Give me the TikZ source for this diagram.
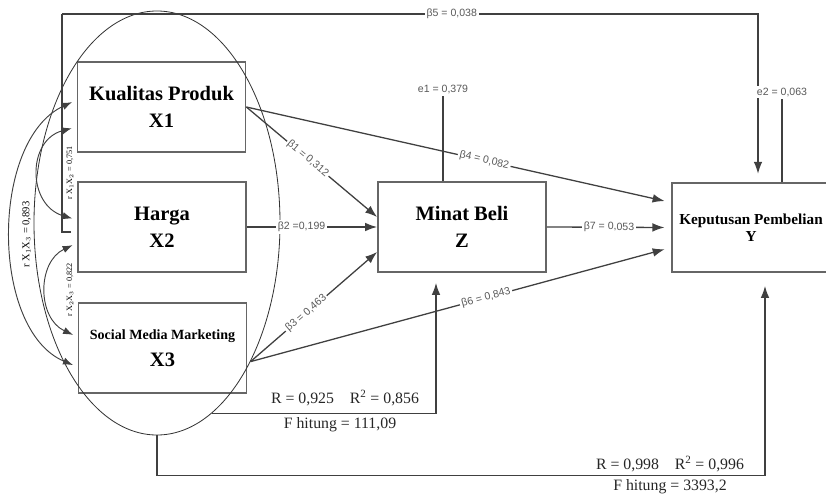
\documentclass[tikz,border=0pt]{standalone}
\usepackage{fontspec}
\setmainfont{Liberation Serif}
\newfontfamily\coeffont{Liberation Sans}
\usetikzlibrary{arrows.meta,shapes.geometric}

\begin{document}
\begin{tikzpicture}[x=0.03cm, y=-0.03cm,
  varbox/.style={draw=black!60, line width=1.5pt, minimum width=5.04cm, minimum height=2.7cm, inner sep=0pt, align=center, font=\fontsize{17.5}{23}\selectfont\bfseries},
  link/.style={draw=black!75, line width=1.1pt, -{Latex[length=0.36cm, width=0.26cm]}},
  corr/.style={draw=black!75, line width=0.8pt, {Latex[length=0.3cm, width=0.22cm]}-{Latex[length=0.3cm, width=0.22cm]}, shorten <=0.15cm, shorten >=0.15cm},
  coef/.style={font=\coeffont\fontsize{9}{10}\selectfont, text=black!65, fill=white, inner sep=1.5pt, sloped},
  stat/.style={font=\fontsize{13.5}{15}\selectfont, text=black!85},
  err/.style={draw=black!75, line width=1.1pt}]
\useasboundingbox (0,0) rectangle (826,499);

% variables
\node[varbox] (kp) at (161.5,107) {Kualitas Produk\\X1};
\node[varbox] (hg) at (162,227) {Harga\\X2};
\node[varbox] (smm) at (162.5,348) {\fontsize{12}{23}\selectfont Social Media Marketing\\\fontsize{17.5}{23}\selectfont X3};
\node[varbox] (mb) at (462,227) {Minat Beli\\Z};
\node[varbox, minimum width=4.74cm, minimum height=2.67cm, font=\fontsize{13}{15}\selectfont\bfseries] (kpb) at (751,227.5) {Keputusan Pembelian\\Y};
\node[draw=black!80, line width=0.7pt, ellipse, minimum width=7.38cm, minimum height=12.72cm, inner sep=0pt] (grp) at (157,223) {};

% correlations
\draw[corr] ([yshift=0.21cm]kp.west) .. controls (-10,140) and (-10,330) .. ([yshift=-0.57cm]smm.west)
  node[pos=0.5, rotate=90, font=\fontsize{9}{10}\selectfont, yshift=-0.45cm] {r X$_1$X$_3$ = 0,893};
\draw[corr] ([yshift=-0.6cm]kp.west) .. controls (27,140) and (27,205) .. ([yshift=0.21cm]hg.west);
\draw[corr] ([yshift=-0.48cm]hg.west) .. controls (37,262) and (37,318) .. ([yshift=0.33cm]smm.west);
\node[rotate=90, font=\fontsize{7}{8}\selectfont, inner sep=0pt] (r12) at (70,173) {r X$_1$X$_2$ = 0,751};
\node[rotate=90, font=\fontsize{7}{8}\selectfont, inner sep=0pt] (r23) at (70,290) {r X$_2$X$_3$ = 0,822};

% direct paths
\coordinate (tl) at (62,14);
\draw[err] ([xshift=-0.18cm, yshift=-0.15cm]hg.west) -| (tl);
\draw[link, shorten >=0.25cm] (tl) -| node[coef, pos=0.28] {β5 = 0,038} ([xshift=0.21cm]kpb.north);
\draw[link] (kp.east) -- node[coef, pos=0.47] {β1 = 0,312} ([yshift=0.3cm]mb.west);
\draw[link, shorten >=0.2cm] (kp.east) -- node[coef, pos=0.56] {β4 = 0,082} ([yshift=0.75cm]kpb.west);
\draw[link] (hg.east) -- node[coef, pos=0.42] {β2 =0,199} (mb.west);
\draw[link] (grp.-56) -- node[coef, pos=0.44] {β3 = 0,463} ([yshift=-0.75cm]mb.west);
\draw[link, shorten >=0.2cm] (grp.-56) -- node[coef, pos=0.56] {β6 = 0,843} ([yshift=-0.6cm]kpb.west);
\draw[link, shorten >=0.2cm] (mb.east) -- node[coef] {β7 = 0,053} (kpb.west);

% errors
\draw[err] ([xshift=-0.57cm]mb.north) -- ++(0,-85) node[above, coef] {e1 = 0,379};
\draw[err] ([xshift=0.93cm]kpb.north) -- ++(0,-83) node[above, coef] {e2 = 0,063};

% simultaneous
\draw[link] (grp.-74) -| ([xshift=-0.78cm, yshift=-0.3cm]mb.south);
\node[stat] (rz) at (345,398) {R = 0,925\quad R\textsuperscript{2} = 0,856};
\node[stat] (fz) at (340,425) {F hitung = 111,09};
\draw[link] (grp.south) -- ++(0,40) -| ([xshift=0.42cm, yshift=-0.39cm]kpb.south);
\node[stat] (ry) at (670,464) {R = 0,998\quad R\textsuperscript{2} = 0,996};
\node[stat] (fy) at (670,487) {F hitung = 3393,2};
\end{tikzpicture}
\end{document}
